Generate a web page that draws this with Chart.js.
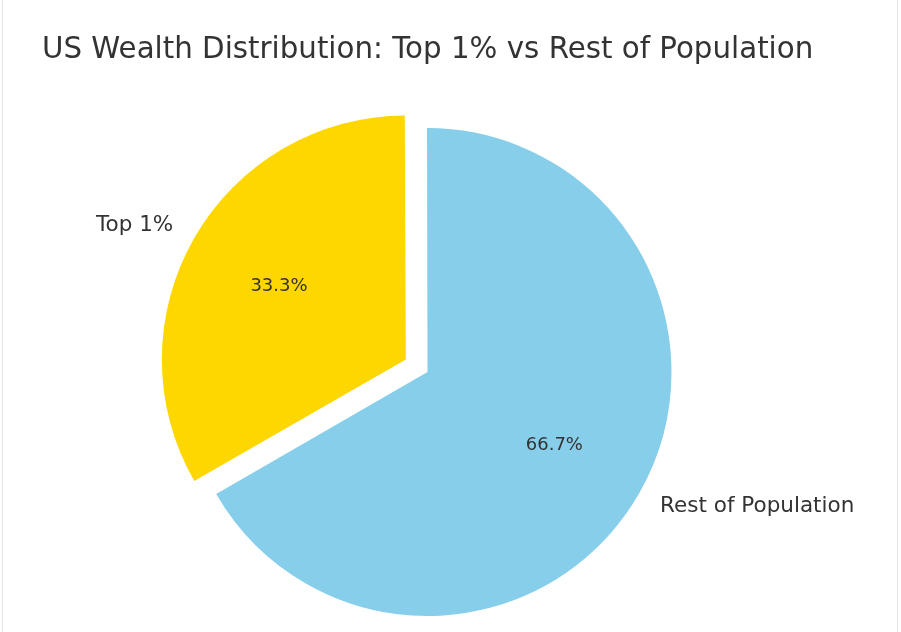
<!DOCTYPE html>
<html>
<head>
<meta charset="utf-8">
<script src="https://cdn.jsdelivr.net/npm/chart.js@4/dist/chart.umd.min.js"></script>
<style>
    html, body { margin: 0; padding: 0; background: #fff; }
    #wrap { position: relative; width: 901px; height: 632px; }
    #frame { position: absolute; left: 2px; top: 0; width: 894px; height: 632px; border-left: 1px solid #e4e4e4; border-right: 1px solid #e4e4e4; pointer-events: none; }
    canvas { position: absolute; left: 0; top: 0; }
</style>
</head>
<body>
<div id="wrap">
    <canvas id="pie" width="901" height="632"></canvas>
    <div id="frame"></div>
</div>
<script>
const chartTitle = 'US Wealth Distribution: Top 1% vs Rest of Population';
const groupLabels = ['Top 1%', 'Rest of Population'];
const wealthShare = [33.3, 66.7];
const sliceColors = ['#FFD700', '#87CEEB'];
const explode = [100, 0];   // chart.js moves a slice by offset / 4

const FONT = '"DejaVu Sans", Verdana, sans-serif';
const PIE_RADIUS = 244;

// keep the exploded slice the same radius as the other one
const fixExplodedRadius = {
    id: 'fixExplodedRadius',
    afterDatasetsUpdate(chart) {
        chart.getDatasetMeta(0).data.forEach(arc => {
            const off = (arc.options.offset || 0) / 4;
            const circ = arc.endAngle - arc.startAngle;
            const fix = 1 - Math.sin(Math.min(Math.PI, circ));
            arc.outerRadius = PIE_RADIUS - off * fix;
        });
    }
};

// title, outside labels and percentages like a matplotlib pie
const pieText = {
    id: 'pieText',
    afterDraw(chart) {
        const ctx = chart.ctx;
        ctx.save();
        ctx.fillStyle = '#333333';
        ctx.font = '29.3px ' + FONT;
        ctx.textAlign = 'left';
        ctx.textBaseline = 'alphabetic';
        ctx.fillText(chartTitle, 42, 58);

        const meta = chart.getDatasetMeta(0);
        const total = wealthShare.reduce((a, b) => a + b, 0);
        meta.data.forEach((arc, i) => {
            const mid = (arc.startAngle + arc.endAngle) / 2;
            const d = (arc.options.offset || 0) / 4;
            const cx = arc.x + Math.cos(mid) * d;
            const cy = arc.y + Math.sin(mid) * d;
            const cos = Math.cos(mid), sin = Math.sin(mid);

            ctx.font = '21.5px ' + FONT;
            ctx.textBaseline = 'middle';
            ctx.textAlign = cos < 0 ? 'right' : 'left';
            ctx.fillText(groupLabels[i], cx + cos * PIE_RADIUS * 1.1, cy + sin * PIE_RADIUS * 1.1);

            ctx.font = '18px ' + FONT;
            ctx.textAlign = 'center';
            const pct = (wealthShare[i] / total * 100).toFixed(1) + '%';
            ctx.fillText(pct, cx + cos * PIE_RADIUS * 0.6, cy + sin * PIE_RADIUS * 0.6);
        });
        ctx.restore();
    }
};

const ctx = document.getElementById('pie').getContext('2d');
const pieChart = new Chart(ctx, {
    type: 'pie',
    data: {
        labels: groupLabels,
        datasets: [{
            data: wealthShare,
            backgroundColor: sliceColors,
            borderWidth: 0,
            offset: explode
        }]
    },
    options: {
        responsive: false,
        animation: false,
        rotation: -120,
        radius: PIE_RADIUS,
        layout: { padding: { top: 112, bottom: 0, left: 0, right: 46 } },
        plugins: {
            legend: { display: false },
            title: { display: false },
            tooltip: { enabled: false }
        }
    },
    plugins: [fixExplodedRadius, pieText]
});
</script>
</body>
</html>
